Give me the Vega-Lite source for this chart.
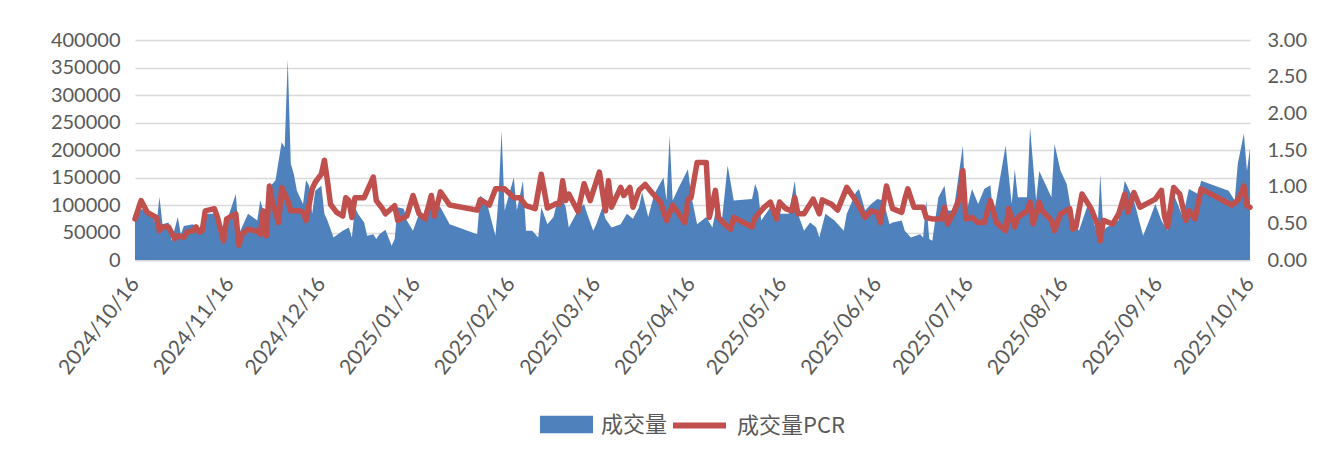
{
  "$schema": "https://vega.github.io/schema/vega-lite/v6.json",
  "width": 1115,
  "height": 220,
  "autosize": "none",
  "padding": {"left": 135, "top": 40, "right": 84, "bottom": 199},
  "background": "white",
  "config": {
    "view": {"stroke": null},
    "font": "Lato",
    "legend": {"layout": {"bottom": {"anchor": "middle", "direction": "horizontal", "margin": 2, "center": true}}}
  },
  "datasets": {
    "vol": [
      {"date": "2024-10-16", "volume": 83000},
      {"date": "2024-10-17", "volume": 95000},
      {"date": "2024-10-20", "volume": 88000},
      {"date": "2024-10-22", "volume": 78000},
      {"date": "2024-10-23", "volume": 60000},
      {"date": "2024-10-24", "volume": 115000},
      {"date": "2024-10-25", "volume": 65000},
      {"date": "2024-10-27", "volume": 68000},
      {"date": "2024-10-28", "volume": 35000},
      {"date": "2024-10-30", "volume": 78000},
      {"date": "2024-10-31", "volume": 47000},
      {"date": "2024-11-01", "volume": 62000},
      {"date": "2024-11-04", "volume": 65000},
      {"date": "2024-11-06", "volume": 53000},
      {"date": "2024-11-08", "volume": 84000},
      {"date": "2024-11-12", "volume": 84000},
      {"date": "2024-11-14", "volume": 53000},
      {"date": "2024-11-18", "volume": 120000},
      {"date": "2024-11-19", "volume": 47000},
      {"date": "2024-11-22", "volume": 84000},
      {"date": "2024-11-25", "volume": 72000},
      {"date": "2024-11-26", "volume": 108000},
      {"date": "2024-11-28", "volume": 72000},
      {"date": "2024-11-29", "volume": 132000},
      {"date": "2024-12-01", "volume": 145000},
      {"date": "2024-12-03", "volume": 214000},
      {"date": "2024-12-04", "volume": 205000},
      {"date": "2024-12-05", "volume": 365000},
      {"date": "2024-12-06", "volume": 175000},
      {"date": "2024-12-07", "volume": 156000},
      {"date": "2024-12-08", "volume": 126000},
      {"date": "2024-12-10", "volume": 102000},
      {"date": "2024-12-11", "volume": 145000},
      {"date": "2024-12-12", "volume": 135000},
      {"date": "2024-12-13", "volume": 84000},
      {"date": "2024-12-14", "volume": 126000},
      {"date": "2024-12-16", "volume": 135000},
      {"date": "2024-12-17", "volume": 84000},
      {"date": "2024-12-18", "volume": 72000},
      {"date": "2024-12-20", "volume": 41000},
      {"date": "2024-12-23", "volume": 53000},
      {"date": "2024-12-25", "volume": 59000},
      {"date": "2024-12-26", "volume": 41000},
      {"date": "2024-12-27", "volume": 96000},
      {"date": "2024-12-28", "volume": 84000},
      {"date": "2024-12-30", "volume": 68000},
      {"date": "2024-12-31", "volume": 44000},
      {"date": "2025-01-02", "volume": 47000},
      {"date": "2025-01-03", "volume": 38000},
      {"date": "2025-01-04", "volume": 47000},
      {"date": "2025-01-06", "volume": 55000},
      {"date": "2025-01-08", "volume": 26000},
      {"date": "2025-01-09", "volume": 38000},
      {"date": "2025-01-10", "volume": 96000},
      {"date": "2025-01-12", "volume": 93000},
      {"date": "2025-01-13", "volume": 72000},
      {"date": "2025-01-15", "volume": 53000},
      {"date": "2025-01-17", "volume": 84000},
      {"date": "2025-01-18", "volume": 78000},
      {"date": "2025-01-20", "volume": 108000},
      {"date": "2025-01-22", "volume": 105000},
      {"date": "2025-01-24", "volume": 96000},
      {"date": "2025-01-27", "volume": 65000},
      {"date": "2025-02-05", "volume": 47000},
      {"date": "2025-02-06", "volume": 117000},
      {"date": "2025-02-08", "volume": 108000},
      {"date": "2025-02-10", "volume": 65000},
      {"date": "2025-02-11", "volume": 44000},
      {"date": "2025-02-12", "volume": 114000},
      {"date": "2025-02-13", "volume": 235000},
      {"date": "2025-02-14", "volume": 90000},
      {"date": "2025-02-17", "volume": 150000},
      {"date": "2025-02-18", "volume": 90000},
      {"date": "2025-02-20", "volume": 144000},
      {"date": "2025-02-21", "volume": 53000},
      {"date": "2025-02-23", "volume": 53000},
      {"date": "2025-02-25", "volume": 41000},
      {"date": "2025-02-26", "volume": 96000},
      {"date": "2025-02-28", "volume": 65000},
      {"date": "2025-03-02", "volume": 78000},
      {"date": "2025-03-04", "volume": 126000},
      {"date": "2025-03-06", "volume": 96000},
      {"date": "2025-03-07", "volume": 59000},
      {"date": "2025-03-10", "volume": 90000},
      {"date": "2025-03-12", "volume": 102000},
      {"date": "2025-03-13", "volume": 84000},
      {"date": "2025-03-15", "volume": 53000},
      {"date": "2025-03-16", "volume": 65000},
      {"date": "2025-03-18", "volume": 96000},
      {"date": "2025-03-19", "volume": 75000},
      {"date": "2025-03-21", "volume": 59000},
      {"date": "2025-03-24", "volume": 65000},
      {"date": "2025-03-26", "volume": 84000},
      {"date": "2025-03-28", "volume": 75000},
      {"date": "2025-03-30", "volume": 96000},
      {"date": "2025-03-31", "volume": 123000},
      {"date": "2025-04-02", "volume": 78000},
      {"date": "2025-04-04", "volume": 120000},
      {"date": "2025-04-07", "volume": 150000},
      {"date": "2025-04-08", "volume": 108000},
      {"date": "2025-04-09", "volume": 226000},
      {"date": "2025-04-10", "volume": 108000},
      {"date": "2025-04-12", "volume": 132000},
      {"date": "2025-04-15", "volume": 165000},
      {"date": "2025-04-16", "volume": 120000},
      {"date": "2025-04-18", "volume": 65000},
      {"date": "2025-04-21", "volume": 78000},
      {"date": "2025-04-23", "volume": 59000},
      {"date": "2025-04-25", "volume": 114000},
      {"date": "2025-04-26", "volume": 65000},
      {"date": "2025-04-28", "volume": 172000},
      {"date": "2025-04-30", "volume": 108000},
      {"date": "2025-05-06", "volume": 111000},
      {"date": "2025-05-07", "volume": 138000},
      {"date": "2025-05-08", "volume": 123000},
      {"date": "2025-05-09", "volume": 72000},
      {"date": "2025-05-12", "volume": 96000},
      {"date": "2025-05-13", "volume": 84000},
      {"date": "2025-05-16", "volume": 84000},
      {"date": "2025-05-18", "volume": 84000},
      {"date": "2025-05-20", "volume": 144000},
      {"date": "2025-05-21", "volume": 84000},
      {"date": "2025-05-23", "volume": 53000},
      {"date": "2025-05-25", "volume": 68000},
      {"date": "2025-05-27", "volume": 59000},
      {"date": "2025-05-28", "volume": 41000},
      {"date": "2025-05-30", "volume": 84000},
      {"date": "2025-06-02", "volume": 72000},
      {"date": "2025-06-05", "volume": 53000},
      {"date": "2025-06-06", "volume": 84000},
      {"date": "2025-06-09", "volume": 123000},
      {"date": "2025-06-10", "volume": 129000},
      {"date": "2025-06-12", "volume": 90000},
      {"date": "2025-06-14", "volume": 102000},
      {"date": "2025-06-16", "volume": 111000},
      {"date": "2025-06-18", "volume": 108000},
      {"date": "2025-06-20", "volume": 65000},
      {"date": "2025-06-21", "volume": 68000},
      {"date": "2025-06-24", "volume": 72000},
      {"date": "2025-06-25", "volume": 53000},
      {"date": "2025-06-27", "volume": 41000},
      {"date": "2025-06-30", "volume": 47000},
      {"date": "2025-07-01", "volume": 41000},
      {"date": "2025-07-02", "volume": 108000},
      {"date": "2025-07-03", "volume": 38000},
      {"date": "2025-07-04", "volume": 35000},
      {"date": "2025-07-06", "volume": 114000},
      {"date": "2025-07-08", "volume": 135000},
      {"date": "2025-07-09", "volume": 90000},
      {"date": "2025-07-11", "volume": 90000},
      {"date": "2025-07-14", "volume": 208000},
      {"date": "2025-07-15", "volume": 84000},
      {"date": "2025-07-17", "volume": 129000},
      {"date": "2025-07-19", "volume": 102000},
      {"date": "2025-07-21", "volume": 129000},
      {"date": "2025-07-23", "volume": 136000},
      {"date": "2025-07-24", "volume": 78000},
      {"date": "2025-07-28", "volume": 208000},
      {"date": "2025-07-30", "volume": 102000},
      {"date": "2025-07-31", "volume": 165000},
      {"date": "2025-08-01", "volume": 114000},
      {"date": "2025-08-04", "volume": 114000},
      {"date": "2025-08-05", "volume": 241000},
      {"date": "2025-08-07", "volume": 108000},
      {"date": "2025-08-08", "volume": 162000},
      {"date": "2025-08-12", "volume": 114000},
      {"date": "2025-08-13", "volume": 211000},
      {"date": "2025-08-15", "volume": 162000},
      {"date": "2025-08-17", "volume": 138000},
      {"date": "2025-08-19", "volume": 72000},
      {"date": "2025-08-21", "volume": 53000},
      {"date": "2025-08-24", "volume": 102000},
      {"date": "2025-08-27", "volume": 47000},
      {"date": "2025-08-28", "volume": 156000},
      {"date": "2025-08-29", "volume": 53000},
      {"date": "2025-08-30", "volume": 59000},
      {"date": "2025-09-03", "volume": 72000},
      {"date": "2025-09-05", "volume": 144000},
      {"date": "2025-09-08", "volume": 108000},
      {"date": "2025-09-11", "volume": 44000},
      {"date": "2025-09-13", "volume": 72000},
      {"date": "2025-09-15", "volume": 102000},
      {"date": "2025-09-17", "volume": 72000},
      {"date": "2025-09-19", "volume": 53000},
      {"date": "2025-09-21", "volume": 120000},
      {"date": "2025-09-24", "volume": 78000},
      {"date": "2025-09-26", "volume": 129000},
      {"date": "2025-09-29", "volume": 120000},
      {"date": "2025-09-30", "volume": 144000},
      {"date": "2025-10-09", "volume": 126000},
      {"date": "2025-10-11", "volume": 108000},
      {"date": "2025-10-12", "volume": 175000},
      {"date": "2025-10-14", "volume": 230000},
      {"date": "2025-10-15", "volume": 162000},
      {"date": "2025-10-16", "volume": 203000}
    ],
    "pcr": [
      {"date": "2024-10-16", "pcr": 0.56},
      {"date": "2024-10-18", "pcr": 0.81},
      {"date": "2024-10-20", "pcr": 0.65},
      {"date": "2024-10-23", "pcr": 0.58},
      {"date": "2024-10-24", "pcr": 0.40},
      {"date": "2024-10-25", "pcr": 0.45},
      {"date": "2024-10-27", "pcr": 0.45},
      {"date": "2024-10-29", "pcr": 0.29},
      {"date": "2024-10-30", "pcr": 0.33},
      {"date": "2024-11-01", "pcr": 0.31},
      {"date": "2024-11-02", "pcr": 0.38},
      {"date": "2024-11-04", "pcr": 0.40},
      {"date": "2024-11-05", "pcr": 0.45},
      {"date": "2024-11-06", "pcr": 0.38},
      {"date": "2024-11-07", "pcr": 0.40},
      {"date": "2024-11-08", "pcr": 0.67},
      {"date": "2024-11-11", "pcr": 0.70},
      {"date": "2024-11-12", "pcr": 0.58},
      {"date": "2024-11-14", "pcr": 0.26},
      {"date": "2024-11-15", "pcr": 0.56},
      {"date": "2024-11-18", "pcr": 0.63},
      {"date": "2024-11-19", "pcr": 0.20},
      {"date": "2024-11-20", "pcr": 0.35},
      {"date": "2024-11-22", "pcr": 0.42},
      {"date": "2024-11-24", "pcr": 0.40},
      {"date": "2024-11-25", "pcr": 0.40},
      {"date": "2024-11-26", "pcr": 0.35},
      {"date": "2024-11-27", "pcr": 0.67},
      {"date": "2024-11-28", "pcr": 0.33},
      {"date": "2024-11-29", "pcr": 1.01},
      {"date": "2024-11-30", "pcr": 0.79},
      {"date": "2024-12-02", "pcr": 0.51},
      {"date": "2024-12-03", "pcr": 0.99},
      {"date": "2024-12-05", "pcr": 0.81},
      {"date": "2024-12-06", "pcr": 0.67},
      {"date": "2024-12-09", "pcr": 0.67},
      {"date": "2024-12-10", "pcr": 0.65},
      {"date": "2024-12-11", "pcr": 0.54},
      {"date": "2024-12-13", "pcr": 0.97},
      {"date": "2024-12-14", "pcr": 1.06},
      {"date": "2024-12-16", "pcr": 1.17},
      {"date": "2024-12-17", "pcr": 1.36},
      {"date": "2024-12-18", "pcr": 1.08},
      {"date": "2024-12-19", "pcr": 0.76},
      {"date": "2024-12-21", "pcr": 0.65},
      {"date": "2024-12-23", "pcr": 0.60},
      {"date": "2024-12-24", "pcr": 0.85},
      {"date": "2024-12-25", "pcr": 0.81},
      {"date": "2024-12-26", "pcr": 0.58},
      {"date": "2024-12-27", "pcr": 0.85},
      {"date": "2024-12-30", "pcr": 0.85},
      {"date": "2025-01-02", "pcr": 1.13},
      {"date": "2025-01-03", "pcr": 0.81},
      {"date": "2025-01-05", "pcr": 0.70},
      {"date": "2025-01-06", "pcr": 0.63},
      {"date": "2025-01-09", "pcr": 0.74},
      {"date": "2025-01-10", "pcr": 0.54},
      {"date": "2025-01-12", "pcr": 0.58},
      {"date": "2025-01-13", "pcr": 0.60},
      {"date": "2025-01-15", "pcr": 0.88},
      {"date": "2025-01-17", "pcr": 0.63},
      {"date": "2025-01-19", "pcr": 0.56},
      {"date": "2025-01-21", "pcr": 0.88},
      {"date": "2025-01-22", "pcr": 0.60},
      {"date": "2025-01-24", "pcr": 0.93},
      {"date": "2025-01-27", "pcr": 0.75},
      {"date": "2025-02-05", "pcr": 0.68},
      {"date": "2025-02-06", "pcr": 0.82},
      {"date": "2025-02-09", "pcr": 0.75},
      {"date": "2025-02-11", "pcr": 0.97},
      {"date": "2025-02-14", "pcr": 0.97},
      {"date": "2025-02-17", "pcr": 0.85},
      {"date": "2025-02-19", "pcr": 0.85},
      {"date": "2025-02-21", "pcr": 0.74},
      {"date": "2025-02-24", "pcr": 0.70},
      {"date": "2025-02-26", "pcr": 1.17},
      {"date": "2025-02-28", "pcr": 0.71},
      {"date": "2025-03-03", "pcr": 0.77},
      {"date": "2025-03-04", "pcr": 0.76},
      {"date": "2025-03-05", "pcr": 1.08},
      {"date": "2025-03-06", "pcr": 0.81},
      {"date": "2025-03-07", "pcr": 0.90},
      {"date": "2025-03-10", "pcr": 0.66},
      {"date": "2025-03-12", "pcr": 1.04},
      {"date": "2025-03-14", "pcr": 0.81},
      {"date": "2025-03-17", "pcr": 1.20},
      {"date": "2025-03-19", "pcr": 0.67},
      {"date": "2025-03-20", "pcr": 1.08},
      {"date": "2025-03-21", "pcr": 0.72},
      {"date": "2025-03-24", "pcr": 0.99},
      {"date": "2025-03-25", "pcr": 0.88},
      {"date": "2025-03-27", "pcr": 0.99},
      {"date": "2025-03-28", "pcr": 0.72},
      {"date": "2025-03-30", "pcr": 0.95},
      {"date": "2025-04-01", "pcr": 1.03},
      {"date": "2025-04-04", "pcr": 0.88},
      {"date": "2025-04-06", "pcr": 0.79},
      {"date": "2025-04-08", "pcr": 0.54},
      {"date": "2025-04-10", "pcr": 0.75},
      {"date": "2025-04-12", "pcr": 0.63},
      {"date": "2025-04-14", "pcr": 0.51},
      {"date": "2025-04-15", "pcr": 0.83},
      {"date": "2025-04-16", "pcr": 0.85},
      {"date": "2025-04-18", "pcr": 1.33},
      {"date": "2025-04-21", "pcr": 1.33},
      {"date": "2025-04-22", "pcr": 0.58},
      {"date": "2025-04-24", "pcr": 0.95},
      {"date": "2025-04-25", "pcr": 0.58},
      {"date": "2025-04-27", "pcr": 0.49},
      {"date": "2025-04-29", "pcr": 0.42},
      {"date": "2025-04-30", "pcr": 0.58},
      {"date": "2025-05-06", "pcr": 0.45},
      {"date": "2025-05-07", "pcr": 0.58},
      {"date": "2025-05-10", "pcr": 0.72},
      {"date": "2025-05-12", "pcr": 0.79},
      {"date": "2025-05-14", "pcr": 0.56},
      {"date": "2025-05-15", "pcr": 0.79},
      {"date": "2025-05-17", "pcr": 0.70},
      {"date": "2025-05-19", "pcr": 0.67},
      {"date": "2025-05-20", "pcr": 0.85},
      {"date": "2025-05-21", "pcr": 0.63},
      {"date": "2025-05-23", "pcr": 0.63},
      {"date": "2025-05-26", "pcr": 0.83},
      {"date": "2025-05-28", "pcr": 0.63},
      {"date": "2025-05-29", "pcr": 0.82},
      {"date": "2025-06-01", "pcr": 0.76},
      {"date": "2025-06-03", "pcr": 0.68},
      {"date": "2025-06-06", "pcr": 0.99},
      {"date": "2025-06-09", "pcr": 0.81},
      {"date": "2025-06-12", "pcr": 0.58},
      {"date": "2025-06-14", "pcr": 0.67},
      {"date": "2025-06-16", "pcr": 0.65},
      {"date": "2025-06-17", "pcr": 0.51},
      {"date": "2025-06-19", "pcr": 1.01},
      {"date": "2025-06-21", "pcr": 0.70},
      {"date": "2025-06-24", "pcr": 0.65},
      {"date": "2025-06-25", "pcr": 0.83},
      {"date": "2025-06-26", "pcr": 0.97},
      {"date": "2025-06-28", "pcr": 0.72},
      {"date": "2025-07-01", "pcr": 0.72},
      {"date": "2025-07-02", "pcr": 0.58},
      {"date": "2025-07-04", "pcr": 0.56},
      {"date": "2025-07-07", "pcr": 0.56},
      {"date": "2025-07-08", "pcr": 0.72},
      {"date": "2025-07-09", "pcr": 0.49},
      {"date": "2025-07-11", "pcr": 0.65},
      {"date": "2025-07-13", "pcr": 0.85},
      {"date": "2025-07-14", "pcr": 1.22},
      {"date": "2025-07-15", "pcr": 0.56},
      {"date": "2025-07-17", "pcr": 0.58},
      {"date": "2025-07-19", "pcr": 0.51},
      {"date": "2025-07-21", "pcr": 0.51},
      {"date": "2025-07-23", "pcr": 0.81},
      {"date": "2025-07-25", "pcr": 0.51},
      {"date": "2025-07-28", "pcr": 0.40},
      {"date": "2025-07-29", "pcr": 0.70},
      {"date": "2025-07-31", "pcr": 0.45},
      {"date": "2025-08-01", "pcr": 0.58},
      {"date": "2025-08-04", "pcr": 0.67},
      {"date": "2025-08-05", "pcr": 0.79},
      {"date": "2025-08-06", "pcr": 0.49},
      {"date": "2025-08-08", "pcr": 0.79},
      {"date": "2025-08-09", "pcr": 0.67},
      {"date": "2025-08-12", "pcr": 0.54},
      {"date": "2025-08-13", "pcr": 0.40},
      {"date": "2025-08-15", "pcr": 0.63},
      {"date": "2025-08-18", "pcr": 0.70},
      {"date": "2025-08-19", "pcr": 0.42},
      {"date": "2025-08-20", "pcr": 0.45},
      {"date": "2025-08-22", "pcr": 0.90},
      {"date": "2025-08-25", "pcr": 0.70},
      {"date": "2025-08-27", "pcr": 0.49},
      {"date": "2025-08-28", "pcr": 0.26},
      {"date": "2025-08-29", "pcr": 0.54},
      {"date": "2025-09-01", "pcr": 0.49},
      {"date": "2025-09-03", "pcr": 0.63},
      {"date": "2025-09-05", "pcr": 0.90},
      {"date": "2025-09-06", "pcr": 0.65},
      {"date": "2025-09-08", "pcr": 0.92},
      {"date": "2025-09-10", "pcr": 0.72},
      {"date": "2025-09-15", "pcr": 0.83},
      {"date": "2025-09-17", "pcr": 0.95},
      {"date": "2025-09-18", "pcr": 0.60},
      {"date": "2025-09-19", "pcr": 0.45},
      {"date": "2025-09-21", "pcr": 0.99},
      {"date": "2025-09-23", "pcr": 0.90},
      {"date": "2025-09-25", "pcr": 0.54},
      {"date": "2025-09-26", "pcr": 0.67},
      {"date": "2025-09-28", "pcr": 0.56},
      {"date": "2025-09-30", "pcr": 0.97},
      {"date": "2025-10-10", "pcr": 0.75},
      {"date": "2025-10-12", "pcr": 0.81},
      {"date": "2025-10-14", "pcr": 1.01},
      {"date": "2025-10-15", "pcr": 0.74},
      {"date": "2025-10-16", "pcr": 0.72}
    ]
  },
  "layer": [
    {
      "data": {"name": "vol"},
      "mark": {"type": "area", "interpolate": "linear", "opacity": 1},
      "encoding": {
        "x": {
          "field": "date",
          "type": "temporal",
          "scale": {"type": "utc", "domain": [{"year": 2024, "month": 10, "date": 16, "utc": true}, {"year": 2025, "month": 10, "date": 16, "utc": true}]},
          "axis": {
            "title": null,
            "values": [
              {"year": 2024, "month": 10, "date": 16, "utc": true},
              {"year": 2024, "month": 11, "date": 16, "utc": true},
              {"year": 2024, "month": 12, "date": 16, "utc": true},
              {"year": 2025, "month": 1, "date": 16, "utc": true},
              {"year": 2025, "month": 2, "date": 16, "utc": true},
              {"year": 2025, "month": 3, "date": 16, "utc": true},
              {"year": 2025, "month": 4, "date": 16, "utc": true},
              {"year": 2025, "month": 5, "date": 16, "utc": true},
              {"year": 2025, "month": 6, "date": 16, "utc": true},
              {"year": 2025, "month": 7, "date": 16, "utc": true},
              {"year": 2025, "month": 8, "date": 16, "utc": true},
              {"year": 2025, "month": 9, "date": 16, "utc": true},
              {"year": 2025, "month": 10, "date": 16, "utc": true}
            ],
            "format": "%Y/%m/%d",
            "labelAngle": -52,
            "labelAlign": "right",
            "labelBaseline": "middle",
            "labelPadding": 20,
            "labelFontSize": 21,
            "labelColor": "#595959",
            "labelFont": "Lato",
            "labelOverlap": false,
            "labelFlush": false,
            "ticks": false,
            "grid": false,
            "domainColor": "#D9D9D9",
            "domainWidth": 2
          }
        },
        "y": {
          "field": "volume",
          "type": "quantitative",
          "scale": {"domain": [0, 400000], "nice": false},
          "axis": {
            "title": null,
            "values": [0, 50000, 100000, 150000, 200000, 250000, 300000, 350000, 400000],
            "format": "d",
            "grid": true,
            "gridColor": "#D9D9D9",
            "gridWidth": 1.5,
            "domain": false,
            "ticks": false,
            "labelPadding": 15,
            "labelFontSize": 20,
            "labelColor": "#595959",
            "labelFont": "Lato"
          }
        },
        "fill": {
          "datum": "成交量",
          "type": "nominal",
          "scale": {"domain": ["成交量"], "range": ["#4F81BD"]},
          "legend": {
            "title": null,
            "orient": "bottom",
            "direction": "horizontal",
            "offset": 18,
            "symbolSize": 2809,
            "symbolType": "M-1,-0.33H1V0.33H-1Z",
            "symbolStrokeWidth": 0,
            "symbolOpacity": 1,
            "labelFont": "Noto Sans CJK SC",
            "labelFontSize": 22,
            "labelColor": "#595959",
            "labelOffset": 8
          }
        }
      }
    },
    {
      "data": {"name": "pcr"},
      "mark": {"type": "line", "strokeWidth": 5.5, "strokeJoin": "round", "strokeCap": "round"},
      "encoding": {
        "x": {"field": "date", "type": "temporal"},
        "y": {
          "field": "pcr",
          "type": "quantitative",
          "scale": {"domain": [0, 3], "nice": false},
          "axis": {
            "title": null,
            "orient": "right",
            "values": [0, 0.5, 1, 1.5, 2, 2.5, 3],
            "format": ".2f",
            "grid": false,
            "domain": false,
            "ticks": false,
            "labelPadding": 17,
            "labelFontSize": 20,
            "labelColor": "#595959",
            "labelFont": "Lato"
          }
        },
        "stroke": {
          "datum": "成交量PCR",
          "type": "nominal",
          "scale": {"domain": ["成交量PCR"], "range": ["#C0504D"]},
          "legend": {
            "title": null,
            "orient": "bottom",
            "direction": "horizontal",
            "offset": 18,
            "symbolSize": 2809,
            "symbolType": "M-1,0H1",
            "symbolStrokeWidth": 6,
            "symbolOpacity": 1,
            "labelFont": "Noto Sans CJK SC",
            "labelFontSize": 22,
            "labelColor": "#595959",
            "labelOffset": 8
          }
        }
      }
    }
  ],
  "resolve": {"scale": {"y": "independent"}}
}
